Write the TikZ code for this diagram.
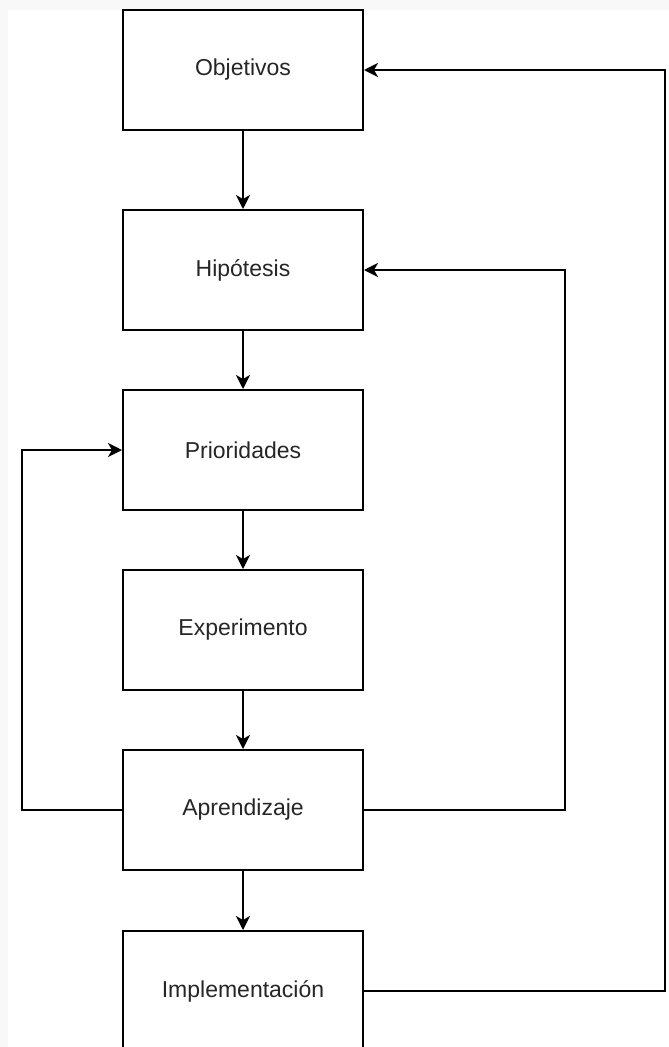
\documentclass[tikz,border=0pt]{standalone}
\usepackage{fontspec}
\setmainfont{Liberation Sans}
\usetikzlibrary{arrows.meta}
\definecolor{bggray}{HTML}{F8F8F8}
\definecolor{txt}{HTML}{262626}
\begin{document}
\begin{tikzpicture}[x=1pt,y=-1pt,
  stepbox/.style={draw=black,line width=2pt,fill=white,minimum width=240pt,minimum height=120pt,inner sep=0pt,font=\fontsize{23}{27}\selectfont,text=txt},
  conn/.style={line width=2pt,-{Stealth[length=14pt,width=14pt,inset=4pt]}}]
\fill[bggray] (0,0) rectangle (669,1047);
\fill[white] (8,10) rectangle (669,1047);
\useasboundingbox (0,0) rectangle (669,1047);
\node[stepbox] (obj) at (243,70) {Objetivos};
\node[stepbox] (hip) at (243,270) {Hipótesis};
\node[stepbox] (pri) at (243,450) {Prioridades};
\node[stepbox] (exp) at (243,630) {Experimento};
\node[stepbox] (apr) at (243,810) {Aprendizaje};
\node[stepbox] (imp) at (243,991) {Implementación};
\draw[conn] (obj) -- (hip);
\draw[conn] (hip) -- (pri);
\draw[conn] (pri) -- (exp);
\draw[conn] (exp) -- (apr);
\draw[conn] (apr) -- (imp);
\coordinate (l1) at (22,810);
\coordinate (r1) at (565,810);
\coordinate (s1) at (665,991);
\draw[conn] (apr.west) -- (l1) |- (pri.west);
\draw[conn] (apr.east) -- (r1) |- (hip.east);
\draw[conn] (imp.east) -- (s1) |- (obj.east);
\end{tikzpicture}
\end{document}
